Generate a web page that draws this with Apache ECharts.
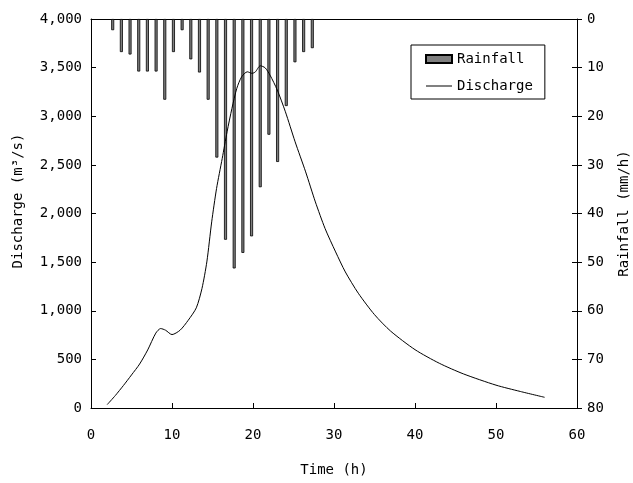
<!DOCTYPE html>
<html>
<head>
<meta charset="utf-8">
<script src="https://cdn.jsdelivr.net/npm/echarts@6/dist/echarts.min.js"></script>
<style>html,body{margin:0;padding:0;background:#fff;}#c{width:633px;height:483px;}</style>
</head>
<body>
<div id="c"></div>
<script>
// Discharge hydrograph (time in hours, discharge in m3/s)
const timeH = [2,3,4,5,6,7,8,8.6,9.2,10,11,12,13,13.7,14.3,14.9,15.5,16.2,16.8,17.4,18,18.6,19.3,19.9,20.3,20.9,21.5,22.1,23,24,25.2,26.5,27.7,28.9,30.2,31.4,33,35,37,40,43,46,50,53,56];
const discharge = [35,128,231,340,452,597,770,817,800,755,800,902,1030,1229,1502,1914,2257,2566,2840,3081,3287,3406,3457,3441,3457,3519,3498,3423,3269,3046,2737,2428,2119,1845,1605,1399,1180,960,790,600,460,350,235,170,110];
// Rainfall hyetograph on an hourly category axis (mm/h)
const rainHours = ['0','1','2','3','4','5','6','7','8','9','10','11','12','13','14','15','16','17','18','19','20','21','22','23','24','25','26','27','28','29','30','31','32','33','34','35','36','37','38','39','40','41','42','43','44','45','46','47','48','49','50','51','52','53','54','55'];
const rainValues = [2.3,6.8,7.3,10.8,10.8,10.8,16.6,6.8,2.3,8.3,11,16.6,28.5,45.4,51.3,48.1,44.7,34.6,23.8,29.4,17.9,8.9,6.8,6];
const rainStartIndex = 2;
const xTicks = [0,10,20,30,40,50,60];

const rainfall = rainHours.map((h, i) => {
  const k = i - rainStartIndex;
  return (k >= 0 && k < rainValues.length) ? rainValues[k] : null;
});
const dischargeData = timeH.map((t, i) => [t, discharge[i]]);

const FONT = 'DejaVu Sans Mono';
const txt = {color: '#000', fontFamily: FONT, fontSize: 14};

const chart = echarts.init(document.getElementById('c'), null, {renderer: 'canvas'});
chart.setOption({
  backgroundColor: '#fff',
  animation: false,
  textStyle: {fontFamily: FONT, color: '#000'},
  grid: {left: 91, right: 56, top: 19, bottom: 75, containLabel: false, outerBoundsMode: 'none'},
  legend: {
    orient: 'vertical',
    left: 411, top: 45,
    padding: [7, 12, 6, 14],
    itemWidth: 26, itemHeight: 16, itemGap: 13,
    borderColor: '#000', borderWidth: 1,
    backgroundColor: '#fff',
    textStyle: Object.assign({}, txt),
    data: [
      {name: 'Rainfall', icon: 'path://M0,0H26V8H0Z'},
      {name: 'Discharge', icon: 'path://M0,0H26V1H0Z', itemStyle: {color: '#000', borderWidth: 0}}
    ]
  },
  xAxis: [
    {
      type: 'value', min: xTicks[0], max: xTicks[xTicks.length - 1], interval: 10,
      position: 'bottom',
      name: 'Time (h)', nameLocation: 'middle', nameGap: 55,
      nameTextStyle: txt,
      axisLine: {lineStyle: {color: '#000', width: 1}},
      axisTick: {inside: true, length: 5, lineStyle: {color: '#000'}},
      axisLabel: Object.assign({margin: 20}, txt),
      splitLine: {show: false}
    },
    {
      type: 'category', data: rainHours, boundaryGap: true,
      position: 'top',
      axisLine: {show: true, lineStyle: {color: '#000', width: 1}},
      axisTick: {show: false},
      axisLabel: {show: false},
      splitLine: {show: false}
    }
  ],
  yAxis: [
    {
      type: 'value', min: 0, max: 4000, interval: 500,
      position: 'left',
      name: 'Discharge (m³/s)', nameLocation: 'middle', nameGap: 66, nameRotate: 90,
      nameTextStyle: Object.assign({padding: [0, 0, 0, 25]}, txt),
      axisLine: {show: true, lineStyle: {color: '#000', width: 1}},
      axisTick: {show: true, inside: true, length: 5, lineStyle: {color: '#000'}},
      axisLabel: Object.assign({margin: 9, formatter: v => v.toLocaleString('en-US')}, txt),
      splitLine: {show: false}
    },
    {
      type: 'value', min: 0, max: 80, interval: 10, inverse: true,
      position: 'right',
      name: 'Rainfall (mm/h)', nameLocation: 'middle', nameGap: 40, nameRotate: 90,
      nameTextStyle: txt,
      axisLine: {show: true, lineStyle: {color: '#000', width: 1}},
      axisTick: {show: true, inside: true, length: 5, lineStyle: {color: '#000'}},
      axisLabel: Object.assign({margin: 10}, txt),
      splitLine: {show: false}
    },
    {
      type: 'value', min: 0, max: 80, interval: 10, inverse: true,
      position: 'right',
      axisLine: {show: false},
      axisTick: {show: true, inside: false, length: 5, lineStyle: {color: '#000'}},
      axisLabel: {show: false},
      splitLine: {show: false}
    }
  ],
  series: [
    {
      name: 'Rainfall', type: 'bar',
      xAxisIndex: 1, yAxisIndex: 1,
      data: rainfall,
      barWidth: 3,
      itemStyle: {color: '#7f7f7f', borderColor: '#000', borderWidth: 0.8}
    },
    {
      name: 'Discharge', type: 'line',
      xAxisIndex: 0, yAxisIndex: 0,
      data: dischargeData,
      smooth: 0.25,
      symbol: 'none',
      lineStyle: {color: '#000', width: 1},
      itemStyle: {color: '#000'}
    }
  ]
});
</script>
</body>
</html>
